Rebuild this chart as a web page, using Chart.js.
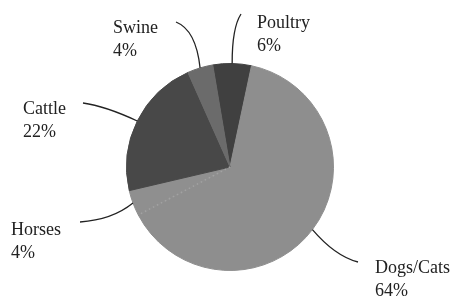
<!DOCTYPE html>
<html>
<head>
<meta charset="utf-8">
<script src="https://cdn.jsdelivr.net/npm/chart.js@4"></script>
<style>
  html, body { margin: 0; padding: 0; background: #fff; }
  #wrap { width: 454px; height: 297px; }
</style>
</head>
<body>
<div id="wrap"><canvas id="canvas"></canvas></div>
<script>
const labels = ["Poultry", "Dogs/Cats", "Horses", "Cattle", "Swine"];
const shares = [6, 64, 4, 22, 4];
const colors = ["#404040", "#8e8e8e", "#8f8f8f", "#484848", "#6b6b6b"];

// where each label sits (left x, first baseline) and the bend of its leader line
const labelPos = [
    { x: 257, y: 28, lx: 241, ly: 14, c: [232, 28] },
    { x: 375, y: 273, lx: 358, ly: 262, c: [335, 256] },
    { x: 11, y: 235, lx: 80, ly: 222, c: [112, 220] },
    { x: 23, y: 114, lx: 83, ly: 103, c: [105, 106] },
    { x: 113, y: 33, lx: 176, ly: 22, c: [196, 30] }
];

const pieLabels = {
    id: 'pieLabels',
    afterDatasetsDraw(chart) {
        const ctx = chart.ctx;
        const arcs = chart.getDatasetMeta(0).data;
        ctx.save();

        // dotted seam between Dogs/Cats and Horses
        const h = arcs[2];
        ctx.strokeStyle = "#a2a2a2";
        ctx.lineWidth = 1.5;
        ctx.setLineDash([1.5, 3]);
        ctx.beginPath();
        ctx.moveTo(h.x, h.y);
        ctx.lineTo(h.x + Math.cos(h.startAngle) * (h.outerRadius - 2), h.y + Math.sin(h.startAngle) * (h.outerRadius - 2));
        ctx.stroke();
        ctx.setLineDash([]);

        ctx.strokeStyle = "#222";
        ctx.lineWidth = 1.3;
        ctx.fillStyle = "#222";
        ctx.font = "18px 'Liberation Serif', serif";
        ctx.textBaseline = "alphabetic";
        arcs.forEach((arc, i) => {
            const mid = (arc.startAngle + arc.endAngle) / 2;
            const sx = arc.x + Math.cos(mid) * arc.outerRadius;
            const sy = arc.y + Math.sin(mid) * arc.outerRadius;
            const p = labelPos[i];
            ctx.beginPath();
            ctx.moveTo(sx, sy);
            ctx.quadraticCurveTo(p.c[0], p.c[1], p.lx, p.ly);
            ctx.stroke();
            ctx.fillText(labels[i], p.x, p.y);
            ctx.fillText(shares[i] + "%", p.x, p.y + 23);
        });
        ctx.restore();
    }
};

function create() {
    const data = {
        labels: labels,
        datasets: [{
            data: shares,
            backgroundColor: colors,
            borderColor: colors,
            borderWidth: 1
        }]
    };
    const config = {
        type: 'pie',
        data: data,
        options: {
            responsive: true,
            maintainAspectRatio: false,
            animation: false,
            rotation: -9.6,
            layout: { padding: { top: 63, bottom: 26, left: 126, right: 120 } },
            plugins: {
                legend: { display: false },
                tooltip: { enabled: false }
            }
        },
        plugins: [pieLabels]
    };

    var canvas = document.getElementById("canvas");
    const chart = new Chart(canvas, config);
}
create();
</script>
</body>
</html>
